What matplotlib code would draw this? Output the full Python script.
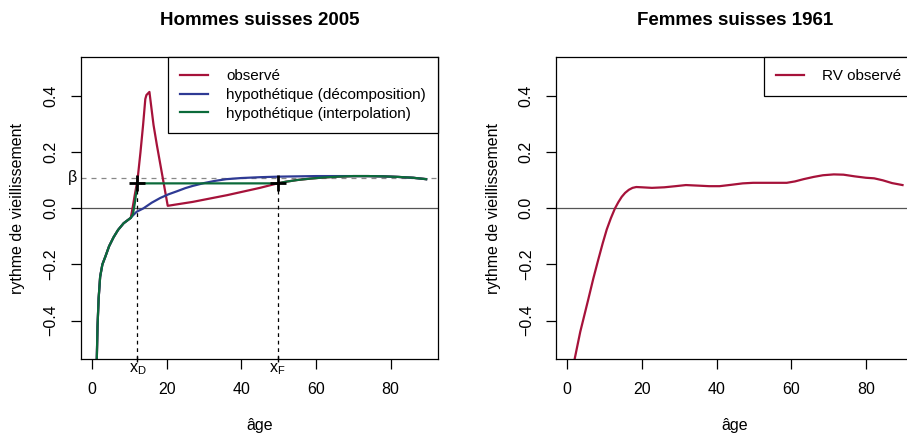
import numpy as np
import matplotlib
matplotlib.use("Agg")
import matplotlib.pyplot as plt

plt.rcParams['font.family'] = ['Liberation Sans', 'DejaVu Sans']
plt.rcParams['mathtext.fontset'] = 'custom'
plt.rcParams['mathtext.rm'] = 'Liberation Sans'
plt.rcParams['mathtext.it'] = 'Liberation Sans'

ROUGE = '#A6123A'
BLEU = '#2E3A94'
VERT = '#0B6A3A'

# --- Hommes suisses 2005 ---
# partie commune aux trois courbes (jeunes âges)
age_debut = [1.3, 1.5, 1.8, 2.2, 2.8, 3.6, 4.6, 5.8, 7.0, 8.5, 10.0, 10.4]
rv_debut = [-0.54, -0.42, -0.32, -0.244, -0.20, -0.172, -0.135, -0.103, -0.077, -0.053, -0.038, -0.034]

# partie commune après x_F (observé / interpolation)
age_fin = [49.7, 52, 55, 58.5, 62, 66, 70, 74, 78, 82, 86, 89.5]
rv_fin = [0.089, 0.095, 0.101, 0.106, 0.110, 0.113, 0.115, 0.115, 0.114, 0.112, 0.109, 0.104]

age_obs = [11.0, 11.5, 12.2, 13.0, 13.7, 14.3, 14.6, 15.4, 16.5, 17.4, 20.3, 27, 36.2, 45]
rv_obs = [0.01, 0.05, 0.10, 0.20, 0.297, 0.39, 0.404, 0.415, 0.297, 0.225, 0.009, 0.023, 0.047, 0.073]

age_dec = [11, 12, 13.8, 16, 18.3, 20.5, 22.8, 25, 27, 30, 33, 36, 40, 45, 50, 55, 60, 66, 70]
rv_dec = [-0.025, -0.012, 0.0, 0.02, 0.037, 0.05, 0.061, 0.072, 0.080, 0.090, 0.098, 0.104, 0.108, 0.111, 0.113, 0.114, 0.115, 0.115, 0.115]

age_int = [11.0, 11.5, 12.0, 12.2]
rv_int = [-0.02, 0.02, 0.07, 0.089]

beta = 0.109
x_D, x_F = 12.2, 49.7
rv_D = 0.089

# --- Femmes suisses 1961 ---
age_f = [2.0, 3.5, 5.6, 7.0, 8.3, 9.5, 10.6, 11.7, 12.8, 13.7, 14.6, 15.5, 16.5, 17.5, 18.5, 20, 22.7,
         26, 29, 31.8, 35, 38, 40.8, 44, 47, 49.8, 54, 58.8, 61, 63.3, 66, 68.5, 71.4, 74, 77, 80,
         82.2, 84.5, 87, 89.8]
rv_f = [-0.537, -0.44, -0.327, -0.25, -0.184, -0.125, -0.075, -0.035, 0.0, 0.022, 0.041, 0.055, 0.066,
        0.073, 0.076, 0.075, 0.073, 0.075, 0.079, 0.083, 0.081, 0.079, 0.079, 0.084, 0.089, 0.091,
        0.091, 0.091, 0.096, 0.104, 0.112, 0.118, 0.121, 0.120, 0.114, 0.109, 0.107, 0.100, 0.090,
        0.083]

xticks = [0, 20, 40, 60, 80]
yticks = [-0.4, -0.2, 0.0, 0.2, 0.4]
ylabels = ['\u22120.4', '\u22120.2', '0.0', '0.2', '0.4']

fig = plt.figure(figsize=(9.07, 4.33), dpi=100)
ax1 = fig.add_axes([0.089, 0.171, 0.394, 0.697])
ax2 = fig.add_axes([0.613, 0.171, 0.394, 0.697])


def habiller(ax, titre):
    ax.set_xlim(-3.0, 92.7)
    ax.set_ylim(-0.537, 0.539)
    ax.axhline(0, color='#555555', lw=0.9, zorder=1)
    ax.set_xticks(xticks)
    ax.set_yticks(yticks)
    ax.set_yticklabels(ylabels, rotation=90, va='center')
    ax.tick_params(direction='out', length=7, width=0.9, labelsize=11.5, pad=9)
    ax.tick_params(axis='x', pad=9.5)
    for s in ax.spines.values():
        s.set_linewidth(0.9)
    ax.set_title(titre, fontsize=13.5, fontweight='bold', pad=23)
    ax.set_xlabel('âge', fontsize=11.5, labelpad=15)
    ax.set_ylabel('rythme de vieillissement', fontsize=11.5, labelpad=13)


habiller(ax1, 'Hommes suisses 2005')
habiller(ax2, 'Femmes suisses 1961')

# courbes hommes
ax1.plot(age_debut + age_obs + age_fin, rv_debut + rv_obs + rv_fin, color=ROUGE, lw=1.6, label='observé')
ax1.plot(age_debut + age_dec + age_fin[-5:], rv_debut + rv_dec + rv_fin[-5:], color=BLEU, lw=1.6,
         label='hypothétique (décomposition)')
ax1.plot(age_debut + age_int + age_fin, rv_debut + rv_int + rv_fin, color=VERT, lw=1.6,
         label='hypothétique (interpolation)')

ax1.axhline(beta, color='#888888', lw=0.9, ls=(0, (4, 4)), zorder=1)
for xx in (x_D, x_F):
    ax1.plot([xx, xx], [-0.537, rv_D], color='black', lw=0.9, ls=(0, (3, 3)))
ax1.plot([x_D, x_F], [rv_D, rv_D], ls='none', marker='+', ms=12, mew=2, color='black')

ax1.text(-3.0 - 1.0, beta, 'β', ha='right', va='center', fontsize=11.5)
for xx, lab in ((x_D, r'$\mathregular{x_D}$'), (x_F, r'$\mathregular{x_F}$')):
    ax1.annotate(lab, xy=(xx, 0), xycoords=('data', 'axes fraction'), xytext=(0, -2),
                 textcoords='offset points', ha='center', va='top', fontsize=11.5)
ax1.plot([x_D, x_F], [-0.537, -0.537], ls='none', marker='|', ms=4, color='black', clip_on=False)

leg1 = ax1.legend(loc='upper right', borderaxespad=0, fancybox=False, framealpha=1,
                  edgecolor='black', fontsize=11, handlelength=1.8, handletextpad=1.2,
                  borderpad=0.8, labelspacing=0.3)
leg1.get_frame().set_linewidth(0.9)

# courbe femmes
ax2.plot(age_f, rv_f, color=ROUGE, lw=1.6, label='RV observé')
leg2 = ax2.legend(loc='upper right', borderaxespad=0, fancybox=False, framealpha=1,
                  edgecolor='black', fontsize=11, handlelength=1.8, handletextpad=1.2,
                  borderpad=0.8)
leg2.get_frame().set_linewidth(0.9)

fig.savefig('out.png', dpi=100)
